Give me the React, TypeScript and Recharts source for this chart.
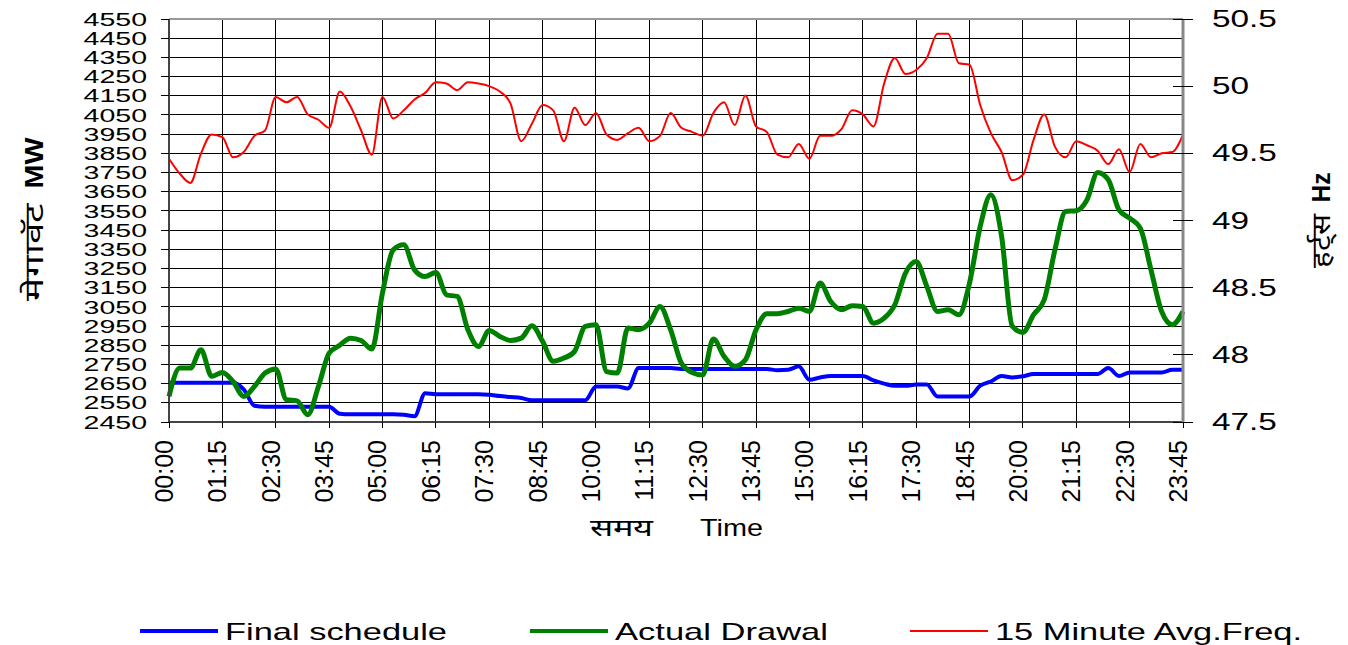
import React from 'react';
import { LineChart, Line, XAxis, YAxis, CartesianGrid, Legend, ReferenceLine } from 'recharts';

const FONT = '"Liberation Sans", Arial, sans-serif';

// 15-minute blocks of the day
const times: string[] = Array.from({ length: 96 }, (_, i) => {
    const m = i * 15;
    return `${String(Math.floor(m / 60)).padStart(2, '0')}:${String(m % 60).padStart(2, '0')}`;
});

const timeTicks = [
    '00:00', '01:15', '02:30', '03:45', '05:00', '06:15', '07:30', '08:45', '10:00', '11:15',
    '12:30', '13:45', '15:00', '16:15', '17:30', '18:45', '20:00', '21:15', '22:30', '23:45',
];
const mwTicks = [
    2450, 2550, 2650, 2750, 2850, 2950, 3050, 3150, 3250, 3350, 3450,
    3550, 3650, 3750, 3850, 3950, 4050, 4150, 4250, 4350, 4450, 4550,
];
const hzTicks = [47.5, 48, 48.5, 49, 49.5, 50, 50.5];

const finalSchedule = [
    2655, 2655, 2655, 2655, 2655, 2655, 2655, 2620, 2535, 2530, 2530, 2530, 2530, 2530, 2530, 2530,
    2493, 2490, 2490, 2490, 2490, 2490, 2488, 2480, 2600, 2595, 2595, 2595, 2595, 2595, 2592, 2585,
    2580, 2575, 2563, 2563, 2563, 2563, 2563, 2563, 2635, 2635, 2635, 2625, 2731, 2731, 2731, 2731,
    2726, 2726, 2726, 2726, 2726, 2726, 2726, 2726, 2726, 2720, 2722, 2740, 2670, 2682, 2690, 2690,
    2690, 2690, 2667, 2650, 2639, 2639, 2645, 2645, 2583, 2583, 2583, 2583, 2639, 2661, 2690, 2682,
    2688, 2700, 2700, 2700, 2700, 2700, 2700, 2700, 2731, 2690, 2708, 2708, 2708, 2708, 2722, 2722,
];

const actualDrawal = [
    2583, 2731, 2731, 2826, 2688, 2708, 2661, 2583, 2635, 2705, 2726, 2566, 2560, 2488, 2635, 2809,
    2850, 2887, 2875, 2830, 3122, 3347, 3373, 3243, 3208, 3229, 3113, 3104, 2931, 2844, 2927, 2896,
    2875, 2887, 2951, 2870, 2766, 2783, 2818, 2948, 2957, 2713, 2705, 2940, 2931, 2965, 3052, 2930,
    2757, 2708, 2695, 2882, 2792, 2740, 2774, 2931, 3014, 3014, 3026, 3043, 3026, 3174, 3078, 3035,
    3056, 3052, 2965, 2991, 3061, 3226, 3286, 3156, 3026, 3035, 3009, 3174, 3469, 3634, 3420, 2950,
    2917, 3009, 3087, 3347, 3547, 3551, 3607, 3750, 3712, 3555, 3512, 3460, 3243, 3026, 2957, 3026,
];

const avgFreq = [
    49.46, 49.35, 49.28, 49.50, 49.64, 49.62, 49.47, 49.51, 49.63, 49.67, 49.92, 49.88, 49.92, 49.79, 49.75, 49.69,
    49.96, 49.85, 49.67, 49.49, 49.92, 49.76, 49.82, 49.90, 49.95, 50.03, 50.02, 49.97, 50.03, 50.02, 50.00, 49.96,
    49.87, 49.59, 49.72, 49.86, 49.82, 49.59, 49.84, 49.71, 49.80, 49.64, 49.60, 49.65, 49.69, 49.59, 49.63, 49.80,
    49.69, 49.66, 49.63, 49.80, 49.88, 49.71, 49.93, 49.70, 49.66, 49.49, 49.47, 49.57, 49.46, 49.63, 49.63, 49.68,
    49.82, 49.79, 49.70, 50.02, 50.21, 50.09, 50.12, 50.21, 50.39, 50.39, 50.17, 50.16, 49.86, 49.65, 49.51, 49.30,
    49.34, 49.60, 49.79, 49.55, 49.47, 49.59, 49.56, 49.52, 49.42, 49.53, 49.36, 49.57, 49.47, 49.50, 49.51, 49.64,
];

const seriesNames = ['Final schedule', 'Actual Drawal', '15 Minute Avg.Freq.'];
const seriesColors = ['#0000ff', '#008000', '#ff0000'];

const data = times.map((t, i) => ({
    time: t,
    schedule: finalSchedule[i],
    drawal: actualDrawal[i],
    freq: avgFreq[i],
}));

const MwTick = ({ x, y, payload }: any) => (
    <text transform={`translate(${x},${y}) scale(1.5,1)`} textAnchor="end" dy="0.35em"
        fontSize={19} fontFamily={FONT} fill="#000">{payload.value}</text>
);

const HzTick = ({ x, y, payload }: any) => (
    <g>
        <line x1={x - 39} x2={x - 29} y1={y} y2={y} stroke="#000" strokeWidth={1} shapeRendering="crispEdges" />
        <text transform={`translate(${x},${y}) scale(1.45,1)`} textAnchor="start" dy="0.35em"
            fontSize={23} fontFamily={FONT} fill="#000">{payload.value}</text>
    </g>
);

const TimeTick = ({ x, y, payload }: any) => (
    <text transform={`translate(${x + 4},${y}) rotate(-90)`} textAnchor="end"
        fontSize={25} fontFamily={FONT} fill="#000">{payload.value}</text>
);

const LeftTitle = ({ viewBox }: any) => {
    const cy = viewBox.y + viewBox.height / 2;
    return (
        <g transform={`translate(${viewBox.x + 43},${cy}) rotate(-90)`} fontFamily={FONT} fill="#000">
            <text x={-80} fontSize={26} textLength={97} lengthAdjust="spacingAndGlyphs">मेगावॅट</text>
            <text x={32} fontSize={26} fontWeight="bold" textLength={51} lengthAdjust="spacingAndGlyphs">MW</text>
        </g>
    );
};

const RightTitle = ({ viewBox }: any) => {
    const cy = viewBox.y + viewBox.height / 2;
    return (
        <g transform={`translate(${viewBox.x + 147},${cy}) rotate(-90)`} fontFamily={FONT} fill="#000">
            <text x={-47} fontSize={26} textLength={54} lengthAdjust="spacingAndGlyphs">हर्ट्स</text>
            <text x={18} fontSize={26} fontWeight="bold" textLength={30} lengthAdjust="spacingAndGlyphs">Hz</text>
        </g>
    );
};

const XTitle = ({ viewBox }: any) => {
    const cx = viewBox.x + viewBox.width / 2;
    const base = viewBox.y + 114;
    return (
        <g fontFamily={FONT} fill="#000" fontSize={24}>
            <text x={cx - 23} y={base} textAnchor="end" textLength={63} lengthAdjust="spacingAndGlyphs">समय</text>
            <text x={cx + 24} y={base} textLength={63} lengthAdjust="spacingAndGlyphs">Time</text>
        </g>
    );
};

const legendX = [140, 530, 910];
const legendTextWidth = [222, 213, 307];
const legendStroke = [4, 4, 2];

const LegendContent = () => (
    <svg width={1348} height={40}>
        {seriesNames.map((name, i) => (
            <g key={name}>
                <line x1={legendX[i]} x2={legendX[i] + 78} y1={20} y2={20}
                    stroke={seriesColors[i]} strokeWidth={legendStroke[i]} />
                <text x={legendX[i] + 85} y={29} fontSize={24} fontFamily={FONT} fill="#000"
                    textLength={legendTextWidth[i]} lengthAdjust="spacingAndGlyphs">{name}</text>
            </g>
        ))}
    </svg>
);

export default function App() {
    return (
        <div style={{ position: 'absolute', left: 0, top: 0, width: 1348, height: 645, background: '#fff' }}>
            <LineChart width={1348} height={645} data={data} margin={{ top: 19, right: 0, left: 0, bottom: 73 }}>
                <CartesianGrid yAxisId="mw" stroke="#000" strokeWidth={1} shapeRendering="crispEdges" />
                <XAxis
                    dataKey="time"
                    ticks={timeTicks}
                    interval={0}
                    height={110}
                    tickSize={6}
                    tickMargin={12}
                    tick={(p: any) => <TimeTick {...p} />}
                    axisLine={{ stroke: '#444', strokeWidth: 2 }}
                    tickLine={{ stroke: '#000', shapeRendering: 'crispEdges' }}
                    label={(p: any) => <XTitle {...p} />}
                />
                <YAxis
                    yAxisId="mw"
                    domain={[2450, 4550]}
                    ticks={mwTicks}
                    interval={0}
                    width={169}
                    tickSize={8}
                    tickMargin={14}
                    tick={(p: any) => <MwTick {...p} />}
                    axisLine={{ stroke: '#444', strokeWidth: 2 }}
                    tickLine={{ stroke: '#000', shapeRendering: 'crispEdges' }}
                    label={(p: any) => <LeftTitle {...p} />}
                />
                <YAxis
                    yAxisId="hz"
                    orientation="right"
                    domain={[47.5, 50.5]}
                    ticks={hzTicks}
                    interval={0}
                    width={165}
                    tickSize={10}
                    tickMargin={19}
                    tick={(p: any) => <HzTick {...p} />}
                    axisLine={{ stroke: '#888', strokeWidth: 3 }}
                    tickLine={{ stroke: '#000', shapeRendering: 'crispEdges' }}
                    label={(p: any) => <RightTitle {...p} />}
                />
                <ReferenceLine yAxisId="mw" y={4550} stroke="#999" strokeWidth={2} />
                <Line yAxisId="mw" type="monotone" dataKey="schedule" name={seriesNames[0]} stroke={seriesColors[0]}
                    strokeWidth={4} dot={false} isAnimationActive={false} />
                <Line yAxisId="mw" type="monotone" dataKey="drawal" name={seriesNames[1]} stroke={seriesColors[1]}
                    strokeWidth={5} dot={false} isAnimationActive={false} />
                <Line yAxisId="hz" type="monotone" dataKey="freq" name={seriesNames[2]} stroke={seriesColors[2]}
                    strokeWidth={2} dot={false} isAnimationActive={false} />
                <Legend content={() => <LegendContent />} wrapperStyle={{ top: 611, left: 0, width: 1348, height: 40 }} />
            </LineChart>
        </div>
    );
}
